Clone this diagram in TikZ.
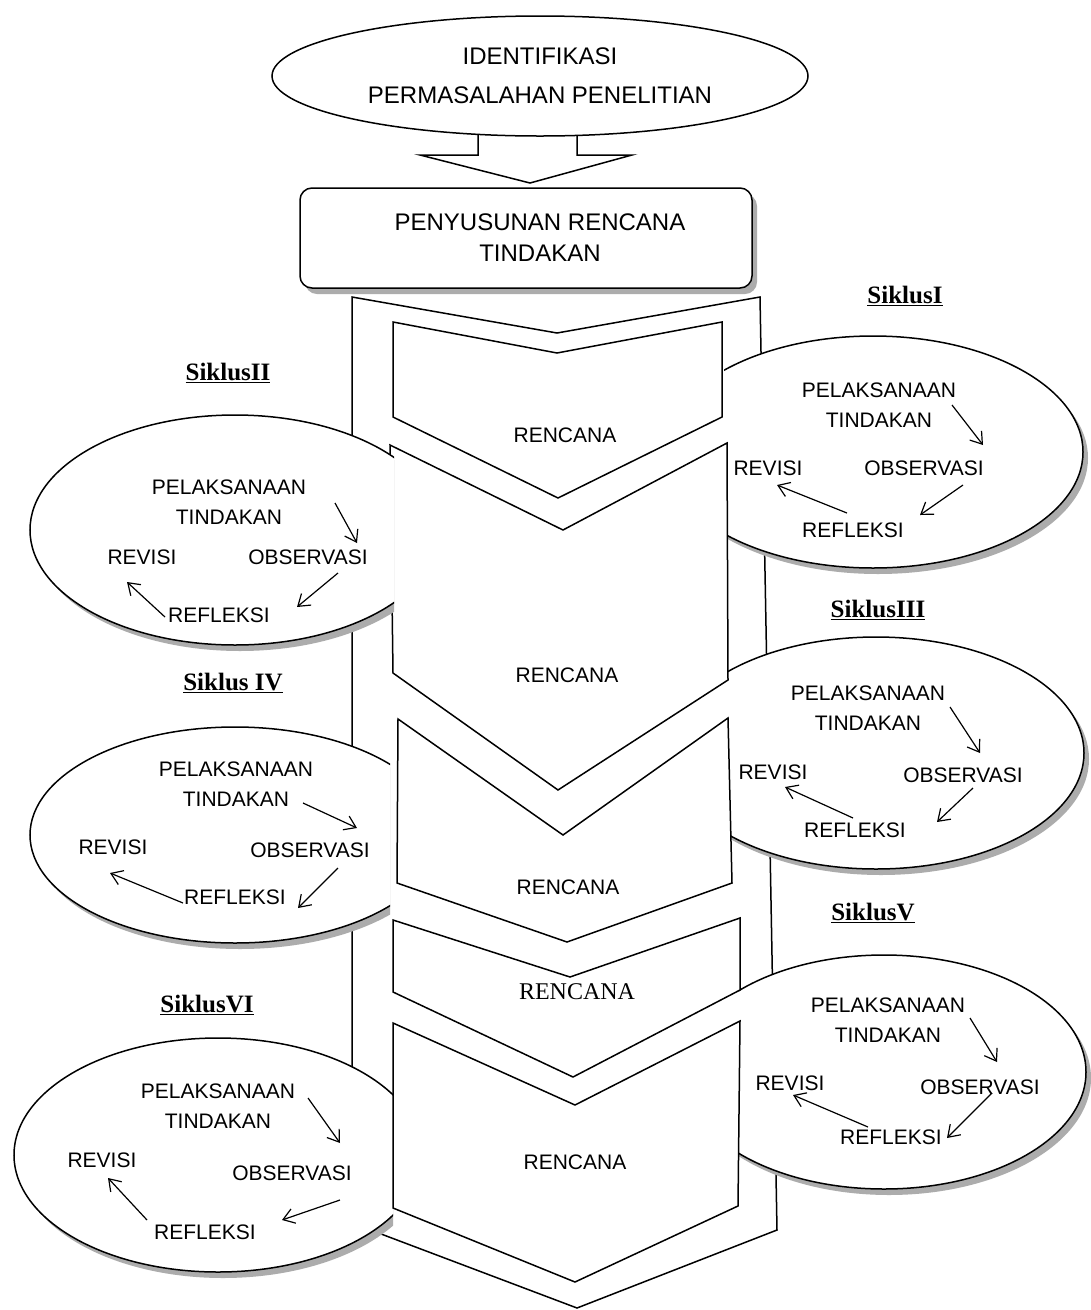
\documentclass[tikz,border=0pt]{standalone}
\usepackage{fontspec}
\setmainfont{Liberation Sans}
\newfontfamily\serifb{Liberation Serif}
\usetikzlibrary{shapes.geometric,shadows,arrows.meta}
\begin{document}
\begin{tikzpicture}[x=1pt,y=-1pt,
  ln/.style={line width=1.5pt,line join=miter},
  shp/.style={ln,draw=black,fill=white},
  shd/.style={drop shadow={shadow xshift=5pt,shadow yshift=-6pt,fill=gray!65,opacity=1}},
  cyc/.style={shp,ellipse,inner sep=0pt,shd},
  txt/.style={font=\fontsize{21}{30}\selectfont,inner sep=1pt,align=center},
  big/.style={font=\fontsize{24}{31}\selectfont,align=center,inner sep=1pt},
  ren/.style={font=\fontsize{21}{24}\selectfont,inner sep=1pt},
  rens/.style={font=\serifb\fontsize{24}{26}\selectfont,inner sep=1pt},
  sik/.style={font=\serifb\bfseries\fontsize{25}{28}\selectfont,inner sep=1pt},
  arr/.style={line width=1.2pt,-{Straight Barb[length=11pt,width=15pt]}},
]
\useasboundingbox (0,0) rectangle (1091,1310);
\fill[white] (0,0) rectangle (1091,1310);

% outer column
\draw[shp] (352,297) -- (557,333) -- (760,297) -- (777,1230) -- (577,1308) -- (352,1223) -- cycle;

% block arrow from identification to planning
\draw[shp] (478,110) -- (478,155) -- (420,155) -- (530,183) -- (632,155) -- (577,155) -- (577,110);
\node[shp,ellipse,inner sep=0pt,minimum width=536pt,minimum height=120pt,font=\fontsize{24}{39}\selectfont,align=center] (ident) at (540,76) {IDENTIFIKASI\\PERMASALAHAN PENELITIAN};

% planning box
\node[shp,rounded corners=12pt,minimum width=452pt,minimum height=100pt,shd] (plan) at (526,238) {};
\node[big] (plantxt) at (540,238) {PENYUSUNAN RENCANA\\TINDAKAN};

% right ellipses (behind chevrons)
\begin{scope}
  \clip (724,0) rectangle (1091,600);
  \node[cyc,minimum width=420pt,minimum height=232pt] (e1) at (873,452) {};
\end{scope}
\begin{scope}
  \clip (728,600) rectangle (1091,900);
  \node[cyc,minimum width=416pt,minimum height=232pt] (e3) at (876,753) {};
\end{scope}
\begin{scope}
  \clip (739,900) rectangle (1091,1310);
  \node[cyc,minimum width=404pt,minimum height=234pt] (e5) at (884,1072) {};
\end{scope}
% left ellipses (behind chevrons)
\begin{scope}
  \clip (0,650) rectangle (390,980);
  \node[cyc,minimum width=410pt,minimum height=216pt] (e4) at (235,835) {};
\end{scope}
\begin{scope}
  \clip (0,980) rectangle (393,1310);
  \node[cyc,minimum width=408pt,minimum height=234pt] (e6) at (218,1155) {};
\end{scope}

% chevrons
\draw[shp] (393,322) -- (557,353) -- (722,322) -- (722,417) -- (558,498) -- (393,417) -- cycle;
\draw[shp] (390,445) -- (563,530) -- (727,443) -- (728,680) -- (558,790) -- (393,673) -- cycle;
\draw[shp] (398,719) -- (563,835) -- (728,718) -- (732,883) -- (567,942) -- (397,883) -- cycle;
\draw[shp] (393,920) -- (570,977) -- (740,918) -- (740,990) -- (573,1077) -- (393,992) -- cycle;
\draw[shp] (393,1023) -- (575,1105) -- (740,1021) -- (738,1206) -- (575,1282) -- (393,1208) -- cycle;

% ellipse II (over chevron)
\begin{scope}
  \clip (0,400) rectangle (394,660);
  \node[cyc,minimum width=410pt,minimum height=230pt] (e2) at (235,530) {};
\end{scope}

% RENCANA labels
\node[ren] (rc1) at (565,435) {RENCANA};
\node[ren] (rc2) at (567,675) {RENCANA};
\node[ren] (rc3) at (568,887) {RENCANA};
\node[rens] (rc4) at (577,992) {RENCANA};
\node[ren] (rc5) at (575,1162) {RENCANA};

% Siklus labels
\node[sik] (s1) at (905,296) {\underline{SiklusI}};
\node[sik] (s2) at (228,373) {\underline{SiklusII}};
\node[sik] (s3) at (878,610) {\underline{SiklusIII}};
\node[sik] (s4) at (233,683) {\underline{Siklus IV}};
\node[sik] (s5) at (873,913) {\underline{SiklusV}};
\node[sik] (s6) at (207,1005) {\underline{SiklusVI}};

% Siklus I
\node[txt] (p1) at (879,405) {PELAKSANAAN\\TINDAKAN};
\node[txt] (v1) at (768,468) {REVISI};
\node[txt] (o1) at (924,468) {OBSERVASI};
\node[txt] (r1) at (853,530) {REFLEKSI};
\draw[arr] ([shift={(73,0)}]p1.center) -- ([shift={(59,-23)}]o1.center);
\draw[arr] ([shift={(39,17)}]o1.center) -- ([shift={(67,-15)}]r1.center);
\draw[arr] ([shift={(-6,-17)}]r1.center) -- ([shift={(9,17)}]v1.center);

% Siklus II
\node[txt] (p2) at (229,502) {PELAKSANAAN\\TINDAKAN};
\node[txt] (v2) at (142,557) {REVISI};
\node[txt] (o2) at (308,557) {OBSERVASI};
\node[txt] (r2) at (219,615) {REFLEKSI};
\draw[arr] ([shift={(106,1)}]p2.center) -- ([shift={(49,-14)}]o2.center);
\draw[arr] ([shift={(30,16)}]o2.center) -- ([shift={(78,-8)}]r2.center);
\draw[arr] ([shift={(-54,2)}]r2.center) -- ([shift={(-15,25)}]v2.center);

% Siklus III
\node[txt] (p3) at (868,708) {PELAKSANAAN\\TINDAKAN};
\node[txt] (v3) at (773,772) {REVISI};
\node[txt] (o3) at (963,775) {OBSERVASI};
\node[txt] (r3) at (855,830) {REFLEKSI};
\draw[arr] ([shift={(82,-1)}]p3.center) -- ([shift={(17,-22)}]o3.center);
\draw[arr] ([shift={(10,13)}]o3.center) -- ([shift={(82,-8)}]r3.center);
\draw[arr] ([shift={(-2,-12)}]r3.center) -- ([shift={(12,15)}]v3.center);

% Siklus IV
\node[txt] (p4) at (236,784) {PELAKSANAAN\\TINDAKAN};
\node[txt] (v4) at (113,847) {REVISI};
\node[txt] (o4) at (310,850) {OBSERVASI};
\node[txt] (r4) at (235,897) {REFLEKSI};
\draw[arr] ([shift={(67,19)}]p4.center) -- ([shift={(47,-22)}]o4.center);
\draw[arr] ([shift={(28,18)}]o4.center) -- ([shift={(63,11)}]r4.center);
\draw[arr] ([shift={(-52,6)}]r4.center) -- ([shift={(-3,26)}]v4.center);

% Siklus V
\node[txt] (p5) at (888,1020) {PELAKSANAAN\\TINDAKAN};
\node[txt] (v5) at (790,1083) {REVISI};
\node[txt] (o5) at (980,1087) {OBSERVASI};
\node[txt] (r5) at (891,1137) {REFLEKSI};
\draw[arr] ([shift={(82,-2)}]p5.center) -- ([shift={(17,-25)}]o5.center);
\draw[arr] ([shift={(12,6)}]o5.center) -- ([shift={(56,1)}]r5.center);
\draw[arr] ([shift={(-23,-10)}]r5.center) -- ([shift={(3,12)}]v5.center);

% Siklus VI
\node[txt] (p6) at (218,1106) {PELAKSANAAN\\TINDAKAN};
\node[txt] (v6) at (102,1160) {REVISI};
\node[txt] (o6) at (292,1173) {OBSERVASI};
\node[txt] (r6) at (205,1232) {REFLEKSI};
\draw[arr] ([shift={(90,-8)}]p6.center) -- ([shift={(48,-30)}]o6.center);
\draw[arr] ([shift={(48,27)}]o6.center) -- ([shift={(77,-12)}]r6.center);
\draw[arr] ([shift={(-58,-12)}]r6.center) -- ([shift={(6,18)}]v6.center);

\end{tikzpicture}
\end{document}
